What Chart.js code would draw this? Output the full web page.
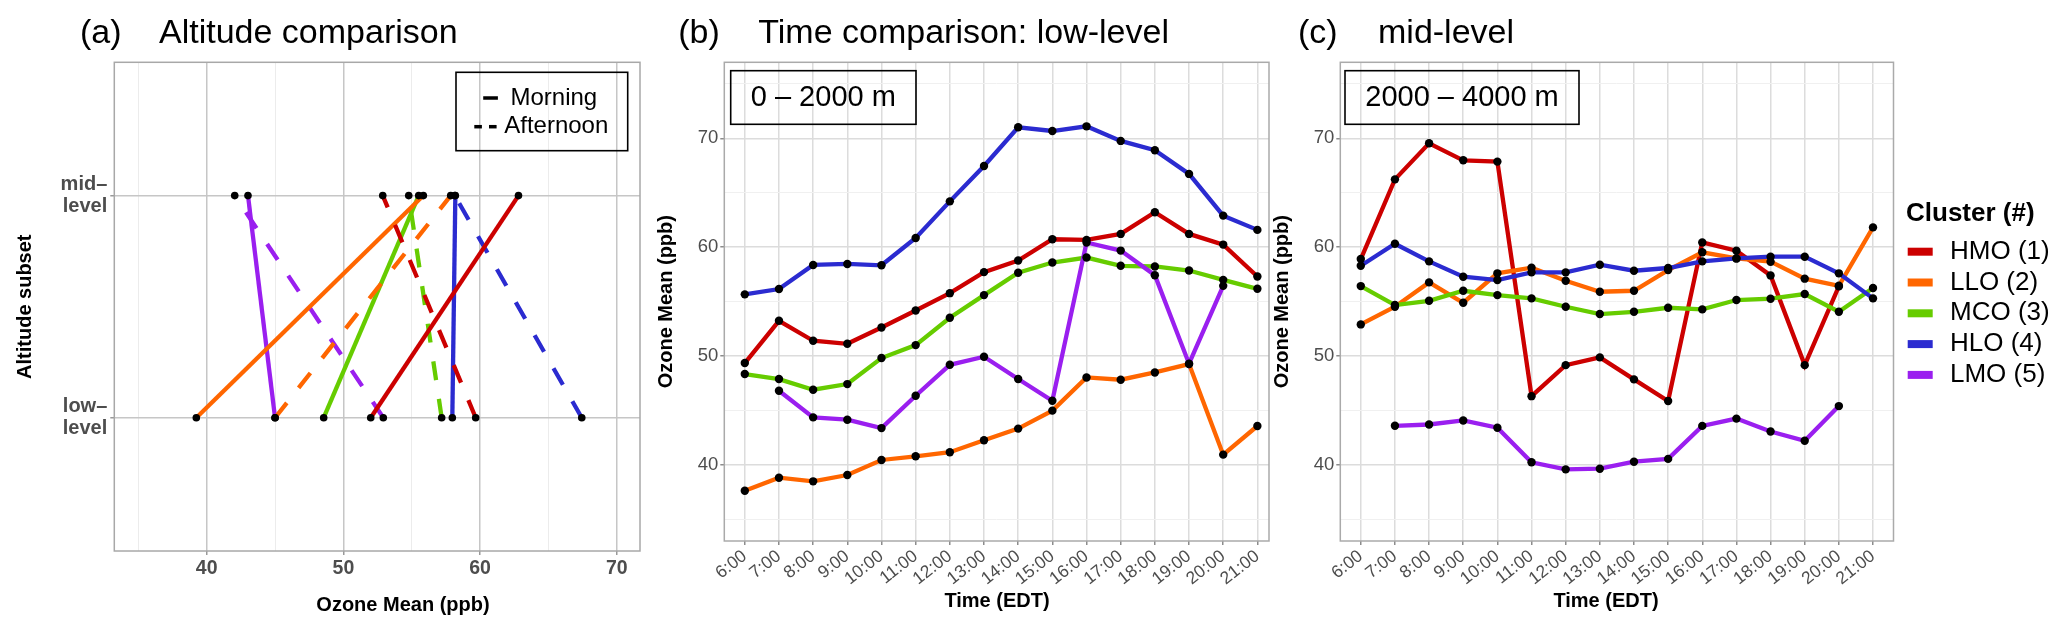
<!DOCTYPE html>
<html>
<head>
<meta charset="utf-8">
<title>Ozone clusters</title>
<script src="https://cdn.jsdelivr.net/npm/chart.js@4.4.1/dist/chart.umd.min.js"></script>
<style>
  html, body { margin: 0; padding: 0; background: #fff; }
  #wrap { position: relative; width: 2067px; height: 634px; }
  #wrap canvas { position: absolute; left: 0; top: 0; }
</style>
</head>
<body>
<div id="wrap">
  <canvas id="chartA" width="2067" height="634"></canvas>
  <canvas id="chartB" width="2067" height="634"></canvas>
  <canvas id="chartC" width="2067" height="634"></canvas>
</div>
<script>
// ---- data ----
const hours = ["6:00", "7:00", "8:00", "9:00", "10:00", "11:00", "12:00", "13:00",
  "14:00", "15:00", "16:00", "17:00", "18:00", "19:00", "20:00", "21:00"];
const clusters = ["HMO (1)", "LLO (2)", "MCO (3)", "HLO (4)", "LMO (5)"];
const clusterColors = ["#cc0000", "#ff6600", "#66cc00", "#2b2bd0", "#9a1fef"];

// (a) altitude comparison, one value per cluster
const morningLow = [52.0, 39.24, 48.56, 57.97, 45.0];
const morningMid = [62.81, 55.85, 55.51, 58.19, 43.02];
const afternoonLow = [59.68, 45.0, 57.19, 67.44, 52.92];
const afternoonMid = [52.88, 57.85, 54.78, 58.15, 42.05];
const altitudeTicks = [1, 2];
const altitudeLabels = [["low–", "level"], ["mid–", "level"]];
const ozoneTicksA = [35, 40, 45, 50, 55, 60, 65, 70];

// (b) low-level, 0-2000 m
const lowHMO = [49.36, 53.24, 51.41, 51.13, 52.63, 54.19, 55.78, 57.71, 58.78, 60.73, 60.67, 61.22, 63.21, 61.22, 60.24, 57.31];
const lowLLO = [37.64, 38.83, 38.5, 39.08, 40.46, 40.8, 41.17, 42.27, 43.34, 44.99, 48.04, 47.83, 48.5, 49.27, 40.95, 43.58];
const lowMCO = [48.35, 47.89, 46.91, 47.43, 49.82, 51.01, 53.52, 55.6, 57.65, 58.59, 59.05, 58.29, 58.23, 57.86, 57.0, 56.18];
const lowHLO = [55.67, 56.16, 58.37, 58.46, 58.34, 60.85, 64.21, 67.46, 71.01, 70.67, 71.1, 69.76, 68.9, 66.73, 62.9, 61.59];
const lowLMO = [null, 46.82, 44.37, 44.16, 43.39, 46.36, 49.2, 49.94, 47.89, 45.9, 60.43, 59.69, 57.43, 49.3, 56.45, null];

// (c) mid-level, 2000-4000 m
const midHMO = [58.91, 66.23, 69.54, 67.98, 67.86, 46.32, 49.17, 49.88, 47.86, 45.87, 60.44, 59.68, 57.41, 49.17, 56.4, null];
const midLLO = [52.91, 54.53, 56.77, 54.9, 57.6, 58.12, 56.92, 55.91, 56.0, 57.9, 59.53, 58.97, 58.67, 57.11, 56.46, 61.82];
const midMCO = [56.43, 54.69, 55.08, 56.0, 55.6, 55.3, 54.53, 53.86, 54.07, 54.44, 54.29, 55.15, 55.27, 55.7, 54.07, 56.25];
const midHLO = [58.3, 60.32, 58.7, 57.29, 56.98, 57.69, 57.69, 58.39, 57.84, 58.09, 58.7, 58.97, 59.13, 59.13, 57.6, 55.3];
const midLMO = [null, 43.6, 43.72, 44.09, 43.42, 40.25, 39.6, 39.66, 40.3, 40.56, 43.59, 44.26, 43.07, 42.22, 45.41, null];

const ozoneTicksBC = [35, 40, 45, 50, 55, 60, 65, 70, 75];

// ---- drawing helpers ----
const FONT = '"Liberation Sans", Arial, sans-serif';
Chart.defaults.font.family = FONT;

const W = 2067, H = 634;

// tick labels of (b)/(c) are a condensed face; fall back to a smaller regular one
function hasFont(name) {
  const c = document.createElement("canvas").getContext("2d");
  c.font = "40px monospace";
  const w1 = c.measureText("10:00 Mean").width;
  c.font = '40px "' + name + '", monospace';
  return c.measureText("10:00 Mean").width !== w1;
}
const narrow = hasFont("Liberation Sans Narrow");
const tickFont = narrow
  ? { family: '"Liberation Sans Narrow", ' + FONT, size: 21 }
  : { family: FONT, size: 17.5 };

// axes get a fixed size so the plot area lands where it should
function fixedSize(yW, xH) {
  return function (scale) {
    if (scale.isHorizontal()) scale.height = xH;
    else scale.width = yW;
  };
}

function area(left, top, right, bottom, yW, xH) {
  return { left: left - yW, top: top, right: W - right, bottom: H - bottom - xH };
}

// frame, boxes, key lines and free text
const decor = {
  id: "decor",
  afterDatasetsDraw(chart, args, opts) {
    const ctx = chart.ctx;
    const a = chart.chartArea;
    ctx.save();
    ctx.strokeStyle = opts.frameColor || "#aaaaaa";
    ctx.lineWidth = 1.5;
    ctx.strokeRect(a.left, a.top, a.right - a.left, a.bottom - a.top);

    (opts.boxes || []).forEach((b) => {
      ctx.strokeStyle = "#000";
      ctx.lineWidth = 1.6;
      ctx.strokeRect(b[0], b[1], b[2] - b[0], b[3] - b[1]);
    });

    (opts.keys || []).forEach((k) => {
      ctx.strokeStyle = k.color || "#000";
      ctx.lineWidth = k.width || 3.5;
      ctx.lineCap = "butt";
      ctx.beginPath();
      ctx.moveTo(k.x1, k.y);
      ctx.lineTo(k.x2, k.y);
      ctx.stroke();
    });

    (opts.texts || []).forEach((t) => {
      ctx.save();
      ctx.font = t.font;
      ctx.fillStyle = t.color || "#000";
      ctx.textAlign = t.align || "left";
      ctx.textBaseline = t.baseline || "alphabetic";
      ctx.translate(t.x, t.y);
      if (t.rot) ctx.rotate(t.rot);
      ctx.fillText(t.text, 0, 0);
      ctx.restore();
    });
    ctx.restore();
  }
};

function toPoints(values) {
  return values.map((v, i) => ({ x: i, y: v }));
}

function timeDatasets(series) {
  const pts = series.map((s) => ({
    data: toPoints(s),
    showLine: false,
    pointRadius: 4.2,
    pointBackgroundColor: "#000",
    pointBorderWidth: 0
  }));
  // first dataset is drawn on top, so HMO goes last
  const lines = series.map((s, i) => ({
    data: toPoints(s),
    borderColor: clusterColors[i],
    borderWidth: 4.3,
    pointRadius: 0,
    spanGaps: false
  })).reverse();
  return pts.concat(lines);
}

function timeScales(xmax) {
  const fit = fixedSize(60, 70);
  return {
    x: {
      type: "linear",
      min: -0.6,
      max: xmax,
      afterFit: fit,
      afterBuildTicks: (s) => { s.ticks = hours.map((h, i) => ({ value: i })); },
      ticks: {
        callback: (v) => hours[v],
        autoSkip: false,
        minRotation: 38,
        maxRotation: 38,
        color: "#4d4d4d",
        font: tickFont,
        padding: 1
      },
      grid: { color: "#dcdcdc", lineWidth: 1.5, tickColor: "#8c8c8c", tickLength: 4 },
      border: { display: false }
    },
    y: {
      type: "linear",
      min: 33.02,
      max: 76.98,
      afterFit: fit,
      afterBuildTicks: (s) => { s.ticks = ozoneTicksBC.map((v) => ({ value: v })); },
      ticks: {
        callback: (v) => (v % 10 === 0 ? v : ""),
        color: "#4d4d4d",
        font: narrow ? tickFont : { family: FONT, size: 18.5 },
        padding: 2
      },
      grid: {
        color: (c) => (c.tick && c.tick.value % 10 === 0 ? "#dcdcdc" : "#f0f0f0"),
        lineWidth: (c) => (c.tick && c.tick.value % 10 === 0 ? 1.5 : 1),
        tickColor: (c) => (c.tick && c.tick.value % 10 === 0 ? "#8c8c8c" : "rgba(0,0,0,0)"),
        tickLength: 4
      },
      border: { display: false }
    }
  };
}

const baseOptions = {
  responsive: false,
  animation: false,
  events: []
};

// ---- (a) Altitude comparison ----
const aDatasets = [{
  data: clusters.flatMap((c, i) => [
    { x: morningLow[i], y: 1 }, { x: morningMid[i], y: 2 },
    { x: afternoonLow[i], y: 1 }, { x: afternoonMid[i], y: 2 }
  ]),
  showLine: false,
  pointRadius: 3.8,
  pointBackgroundColor: "#000",
  pointBorderWidth: 0
}];
clusters.forEach((c, i) => {
  aDatasets.push({
    data: [{ x: morningLow[i], y: 1 }, { x: morningMid[i], y: 2 }],
    borderColor: clusterColors[i],
    borderWidth: 4.3,
    pointRadius: 0
  });
  aDatasets.push({
    data: [{ x: afternoonLow[i], y: 1 }, { x: afternoonMid[i], y: 2 }],
    borderColor: clusterColors[i],
    borderWidth: 4.3,
    borderDash: [19, 19],
    borderCapStyle: "butt",
    pointRadius: 0
  });
});

const fitA = fixedSize(100, 60);

new Chart(document.getElementById("chartA"), {
  type: "line",
  data: { datasets: aDatasets },
  plugins: [decor],
  options: Object.assign({}, baseOptions, {
    layout: { padding: area(114.3, 62.3, 640, 551, 100, 60) },
    scales: {
      x: {
        type: "linear",
        min: 33.24,
        max: 71.7,
        afterFit: fitA,
        afterBuildTicks: (s) => { s.ticks = ozoneTicksA.map((v) => ({ value: v })); },
        ticks: {
          callback: (v) => (v % 10 === 0 ? v : ""),
          autoSkip: false,
          maxRotation: 0,
          color: "#4d4d4d",
          font: { size: 19.5, weight: "bold" },
          padding: 2
        },
        grid: {
          color: (c) => (c.tick && c.tick.value % 10 === 0 ? "#c6c6c6" : "#ececec"),
          lineWidth: (c) => (c.tick && c.tick.value % 10 === 0 ? 1.5 : 1),
          tickColor: (c) => (c.tick && c.tick.value % 10 === 0 ? "#999" : "rgba(0,0,0,0)"),
          tickLength: 4
        },
        border: { display: false }
      },
      y: {
        type: "linear",
        min: 0.4,
        max: 2.6,
        afterFit: fitA,
        afterBuildTicks: (s) => { s.ticks = altitudeTicks.map((v) => ({ value: v })); },
        ticks: {
          callback: (v) => altitudeLabels[altitudeTicks.indexOf(v)],
          color: "#4d4d4d",
          font: { size: 20, weight: "bold", lineHeight: 1.1 },
          padding: 3
        },
        grid: { color: "#c6c6c6", lineWidth: 1.5, tickColor: "#999", tickLength: 4 },
        border: { display: false }
      }
    },
    plugins: {
      legend: { display: false },
      tooltip: { enabled: false },
      decor: {
        frameColor: "#a8a8a8",
        boxes: [[456, 72.3, 627.7, 150.7]],
        keys: [
          { x1: 483.2, x2: 497.9, y: 98 },
          { x1: 474.3, x2: 481.9, y: 126.7 },
          { x1: 489, x2: 496.6, y: 126.7 }
        ],
        texts: [
          { text: "(a)", x: 80, y: 42.7, font: "34px " + FONT },
          { text: "Altitude comparison", x: 159, y: 42.7, font: "34px " + FONT },
          { text: "Ozone Mean (ppb)", x: 403, y: 605, font: "bold 20px " + FONT, align: "center", baseline: "middle" },
          { text: "Altitude subset", x: 25, y: 306.7, rot: -Math.PI / 2, font: "bold 20px " + FONT, align: "center", baseline: "middle" },
          { text: "Morning", x: 510.5, y: 98, font: "24px " + FONT, baseline: "middle" },
          { text: "Afternoon", x: 504.2, y: 126.7, font: "24px " + FONT, baseline: "middle" }
        ]
      }
    }
  })
});

// ---- (b) low-level ----
new Chart(document.getElementById("chartB"), {
  type: "line",
  data: { datasets: timeDatasets([lowHMO, lowLLO, lowMCO, lowHLO, lowLMO]) },
  plugins: [decor],
  options: Object.assign({}, baseOptions, {
    layout: { padding: area(724.3, 62.3, 1269, 541, 60, 70) },
    scales: timeScales(15.34),
    plugins: {
      legend: { display: false },
      tooltip: { enabled: false },
      decor: {
        boxes: [[730.7, 70.7, 916, 124.3]],
        texts: [
          { text: "(b)", x: 678.3, y: 42.7, font: "34px " + FONT },
          { text: "Time comparison: low-level", x: 758.3, y: 42.7, font: "34px " + FONT },
          { text: "0 – 2000 m", x: 823.3, y: 97.5, font: "29px " + FONT, align: "center", baseline: "middle" },
          { text: "Time (EDT)", x: 997, y: 601.7, font: "bold 20px " + FONT, align: "center", baseline: "middle" },
          { text: "Ozone Mean (ppb)", x: 666.7, y: 301.7, rot: -Math.PI / 2, font: "bold 20px " + FONT, align: "center", baseline: "middle" }
        ]
      }
    }
  })
});

// ---- (c) mid-level + cluster legend ----
const legendKeys = clusters.map((c, i) => ({ x1: 1907.7, x2: 1932.7, y: 251.7 + 30.8 * i, color: clusterColors[i], width: 8 }));
const legendTexts = clusters.map((c, i) => ({ text: c, x: 1950, y: 251.7 + 30.8 * i, font: "26px " + FONT, baseline: "middle" }));

new Chart(document.getElementById("chartC"), {
  type: "line",
  data: { datasets: timeDatasets([midHMO, midLLO, midMCO, midHLO, midLMO]) },
  plugins: [decor],
  options: Object.assign({}, baseOptions, {
    layout: { padding: area(1340.3, 62.3, 1893.5, 541, 60, 70) },
    scales: timeScales(15.6),
    plugins: {
      legend: { display: false },
      tooltip: { enabled: false },
      decor: {
        boxes: [[1345, 70.7, 1579, 124.3]],
        keys: legendKeys,
        texts: [
          { text: "(c)", x: 1298, y: 42.7, font: "34px " + FONT },
          { text: "mid-level", x: 1378, y: 42.7, font: "34px " + FONT },
          { text: "2000 – 4000 m", x: 1462, y: 97.5, font: "29px " + FONT, align: "center", baseline: "middle" },
          { text: "Time (EDT)", x: 1606, y: 601.7, font: "bold 20px " + FONT, align: "center", baseline: "middle" },
          { text: "Ozone Mean (ppb)", x: 1282.3, y: 301.7, rot: -Math.PI / 2, font: "bold 20px " + FONT, align: "center", baseline: "middle" },
          { text: "Cluster (#)", x: 1906, y: 221, font: "bold 26px " + FONT }
        ].concat(legendTexts)
      }
    }
  })
});
</script>
</body>
</html>
